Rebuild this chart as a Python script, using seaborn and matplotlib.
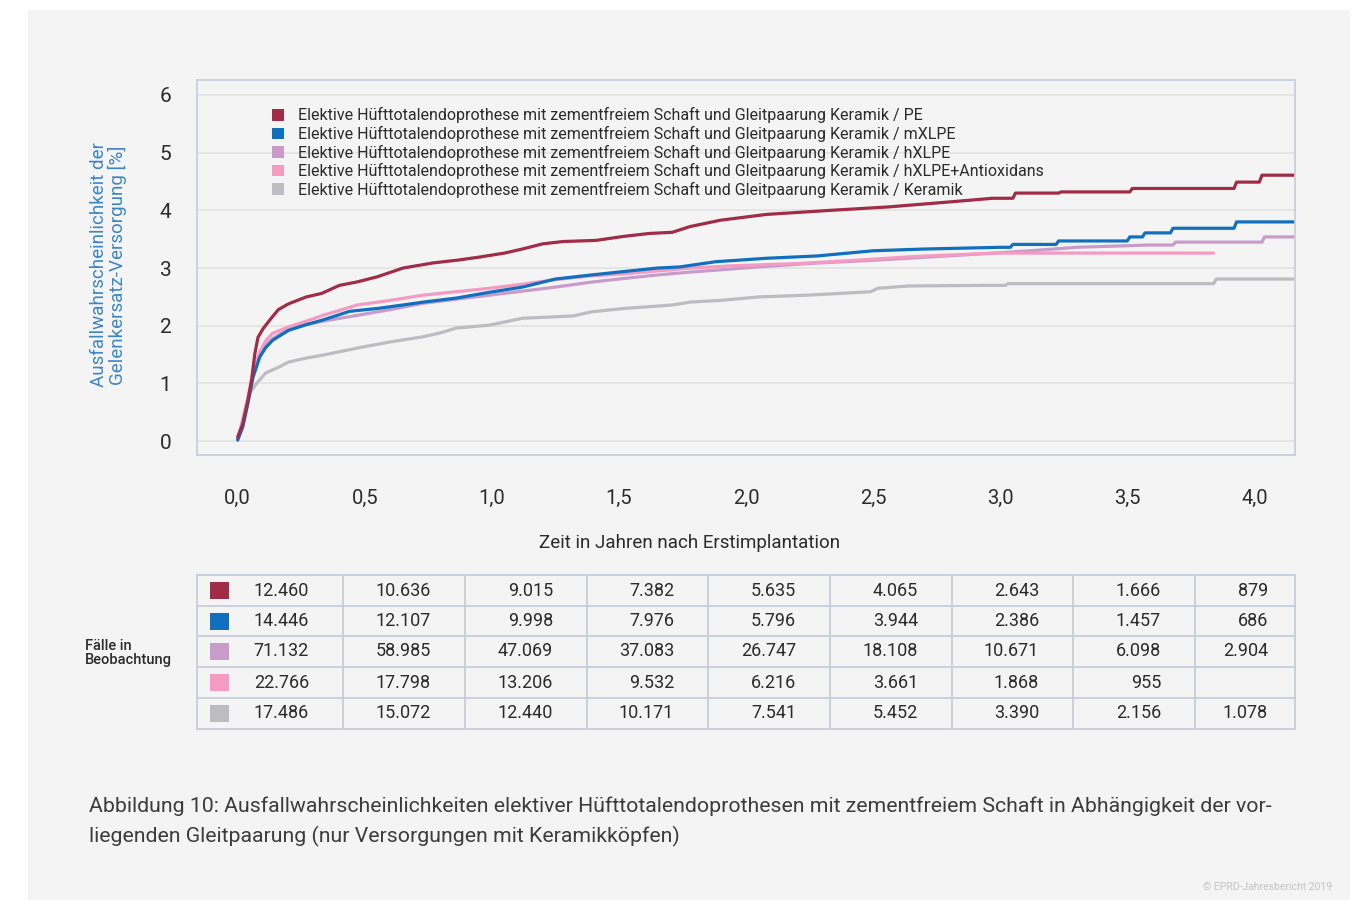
import numpy as np
import pandas as pd
import seaborn as sns
import matplotlib.pyplot as plt
from matplotlib.patches import Patch, Rectangle

# Kurven (Jahre nach Erstimplantation, Ausfallwahrscheinlichkeit in %)
pe_x = [0, 0.02, 0.04, 0.055, 0.067, 0.08, 0.1, 0.13, 0.16, 0.2, 0.27, 0.33, 0.4, 0.47, 0.55, 0.65, 0.77,
        0.87, 0.95, 1.05, 1.12, 1.2, 1.28, 1.41, 1.52, 1.62, 1.71, 1.78, 1.9, 2.08, 2.33, 2.56, 2.81,
        2.97, 3.05, 3.06, 3.23, 3.24, 3.51, 3.52, 3.92, 3.93, 4.02, 4.03, 4.16]
pe_y = [0.07, 0.3, 0.7, 1.06, 1.5, 1.8, 1.95, 2.12, 2.28, 2.38, 2.5, 2.56, 2.70, 2.76, 2.85, 3.0, 3.09,
        3.14, 3.19, 3.26, 3.33, 3.42, 3.46, 3.48, 3.55, 3.60, 3.62, 3.72, 3.83, 3.93, 4.0, 4.06, 4.15,
        4.21, 4.21, 4.30, 4.30, 4.32, 4.32, 4.38, 4.38, 4.49, 4.49, 4.61, 4.61]

mxlpe_x = [0, 0.02, 0.04, 0.06, 0.087, 0.11, 0.138, 0.2, 0.27, 0.335, 0.44, 0.55, 0.65, 0.73, 0.86, 0.99,
           1.12, 1.25, 1.39, 1.52, 1.65, 1.74, 1.88, 2.08, 2.28, 2.50, 2.70, 3.0, 3.04, 3.05, 3.22, 3.23,
           3.50, 3.51, 3.56, 3.57, 3.67, 3.68, 3.92, 3.93, 4.16]
mxlpe_y = [0.02, 0.25, 0.65, 1.1, 1.46, 1.62, 1.75, 1.92, 2.02, 2.10, 2.25, 2.30, 2.36, 2.41, 2.48, 2.58,
           2.67, 2.81, 2.88, 2.94, 3.0, 3.02, 3.11, 3.17, 3.21, 3.30, 3.33, 3.36, 3.36, 3.41, 3.41, 3.47,
           3.47, 3.54, 3.54, 3.61, 3.61, 3.69, 3.69, 3.80, 3.80]

hxlpe_x = [0, 0.02, 0.04, 0.06, 0.087, 0.11, 0.138, 0.2, 0.27, 0.335, 0.47, 0.6, 0.73, 0.86, 0.99, 1.12,
           1.25, 1.38, 1.52, 1.65, 1.78, 2.05, 2.25, 2.52, 2.75, 2.98, 3.15, 3.30, 3.59, 3.68, 3.69, 4.03,
           4.04, 4.16]
hxlpe_y = [0.02, 0.25, 0.7, 1.15, 1.5, 1.66, 1.78, 1.94, 2.02, 2.08, 2.18, 2.28, 2.39, 2.46, 2.53, 2.60,
           2.67, 2.75, 2.82, 2.88, 2.93, 3.02, 3.08, 3.14, 3.20, 3.26, 3.31, 3.36, 3.40, 3.40, 3.45, 3.45,
           3.54, 3.54]

antiox_x = [0, 0.02, 0.04, 0.06, 0.087, 0.11, 0.138, 0.2, 0.27, 0.335, 0.47, 0.6, 0.73, 0.86, 0.99, 1.12,
            1.25, 1.38, 1.52, 1.65, 1.78, 1.95, 2.21, 2.45, 2.66, 2.98, 3.84]
antiox_y = [0.03, 0.3, 0.75, 1.2, 1.55, 1.74, 1.87, 1.98, 2.08, 2.18, 2.36, 2.44, 2.53, 2.59, 2.65, 2.72,
            2.80, 2.86, 2.90, 2.95, 3.0, 3.04, 3.08, 3.14, 3.20, 3.26, 3.26]

keramik_x = [0, 0.015, 0.034, 0.05, 0.074, 0.11, 0.165, 0.2, 0.27, 0.335, 0.40, 0.49, 0.6, 0.73, 0.8, 0.86,
             0.99, 1.12, 1.32, 1.39, 1.52, 1.71, 1.78, 1.90, 2.05, 2.24, 2.49, 2.52, 2.64, 2.94, 3.02, 3.03,
             3.84, 3.85, 4.16]
keramik_y = [0.02, 0.3, 0.65, 0.85, 1.0, 1.18, 1.29, 1.37, 1.44, 1.49, 1.55, 1.63, 1.72, 1.81, 1.88, 1.96,
             2.01, 2.13, 2.17, 2.24, 2.30, 2.36, 2.41, 2.44, 2.50, 2.53, 2.59, 2.65, 2.69, 2.70, 2.70, 2.73,
             2.73, 2.81, 2.81]

prefix = "Elektive Hüfttotalendoprothese mit zementfreiem Schaft und Gleitpaarung Keramik / "
gruppen = ["PE", "mXLPE", "hXLPE", "hXLPE+Antioxidans", "Keramik"]
farben = ["#a02c48", "#1170be", "#c89bcb", "#f59bc3", "#bdbdc1"]
kurven = [(pe_x, pe_y), (mxlpe_x, mxlpe_y), (hxlpe_x, hxlpe_y), (antiox_x, antiox_y), (keramik_x, keramik_y)]

# Fälle in Beobachtung
faelle = [
    ["12.460", "10.636", "9.015", "7.382", "5.635", "4.065", "2.643", "1.666", "879"],
    ["14.446", "12.107", "9.998", "7.976", "5.796", "3.944", "2.386", "1.457", "686"],
    ["71.132", "58.985", "47.069", "37.083", "26.747", "18.108", "10.671", "6.098", "2.904"],
    ["22.766", "17.798", "13.206", "9.532", "6.216", "3.661", "1.868", "955", ""],
    ["17.486", "15.072", "12.440", "10.171", "7.541", "5.452", "3.390", "2.156", "1.078"],
]

x_ticks = [0, 0.5, 1.0, 1.5, 2.0, 2.5, 3.0, 3.5, 4.0]
y_ticks = [0, 1, 2, 3, 4, 5, 6]

rows = []
for g, (xs, ys) in zip(gruppen, kurven):
    for a, b in zip(xs, ys):
        rows.append({"Jahre": a, "Wert": b, "Gruppe": g})
df = pd.DataFrame(rows)

sns.set_style("white")
plt.rcParams['font.family'] = ['Roboto', 'DejaVu Sans']

BG = "#f4f4f4"
LINE = "#c9cfdc"
TXT = "#2b2b2b"

fig = plt.figure(figsize=(13.67, 9), dpi=100)
fig.patch.set_facecolor("white")
fig.patches.append(Rectangle((28 / 1367, 0), 1322 / 1367, 890 / 900, transform=fig.transFigure,
                             facecolor=BG, edgecolor="none", zorder=-10))

ax = fig.add_axes([197 / 1367, 1 - 455 / 900, 1098 / 1367, 375 / 900])
ax.set_facecolor(BG)

# Zeichenreihenfolge: grau unten, rot oben
order = [4, 2, 3, 1, 0]
for i in order:
    sub = df[df["Gruppe"] == gruppen[i]]
    sns.lineplot(data=sub, x="Jahre", y="Wert", ax=ax, color=farben[i], linewidth=2.3,
                 legend=False, errorbar=None, sort=False)

ax.set_xlim(-0.16, 4.16)
ax.set_ylim(-0.24, 6.26)
ax.set_xticks(x_ticks)
ax.set_xticklabels([f"{v:.1f}".replace(".", ",") for v in x_ticks])
ax.set_yticks(y_ticks)
ax.set_yticklabels([str(v) for v in y_ticks])
ax.tick_params(axis="x", length=14.5, width=1.2, color=LINE, pad=10, labelsize=14.5, labelcolor=TXT)
ax.tick_params(axis="y", length=13.5, width=1.2, color=LINE, pad=5, labelsize=15, labelcolor=TXT)
for s in ax.spines.values():
    s.set_color(LINE)
    s.set_linewidth(1.3)
ax.yaxis.grid(True, color="#e2e2e4", linewidth=1.2)
ax.set_axisbelow(True)

ax.set_xlabel("Zeit in Jahren nach Erstimplantation", fontsize=13.5, color=TXT)
ax.xaxis.set_label_coords(0.449, -0.235)
ax.xaxis.label.set_va("center")
ax.set_ylabel("Ausfallwahrscheinlichkeit der\nGelenkersatz-Versorgung [%]", fontsize=13.5, color="#3a86c8",
              linespacing=1.0)
ax.yaxis.set_label_coords(-0.064, 0.507)

handles = [Patch(facecolor=c, edgecolor="none") for c in farben]
ax.legend(handles, [prefix + g for g in gruppen], loc="upper left", bbox_to_anchor=(0.068, 0.927),
          frameon=False, fontsize=11.5, handlelength=0.75, handleheight=0.75, handletextpad=0.9,
          labelspacing=0.16, borderaxespad=0, borderpad=0, labelcolor=TXT)

# Tabelle
tab = fig.add_axes([197 / 1367, 1 - 729 / 900, 1098 / 1367, 154 / 900])
tab.set_xlim(197, 1295)
tab.set_ylim(729, 575)
tab.axis("off")
col_edges = [197, 343, 465, 587, 708, 830, 952, 1073, 1195, 1295]
row_edges = [575, 606, 636, 667, 698, 729]
for yy in row_edges:
    tab.plot([197, 1295], [yy, yy], color=LINE, linewidth=1.4, clip_on=False)
for xx in col_edges:
    tab.plot([xx, xx], [575, 729], color=LINE, linewidth=1.4, clip_on=False)
for r, (werte, c) in enumerate(zip(faelle, farben)):
    yc = (row_edges[r] + row_edges[r + 1]) / 2
    tab.add_patch(Rectangle((210, yc - 8.5), 19, 17, facecolor=c, edgecolor="none"))
    for k, w in enumerate(werte):
        off = 27 if k == len(werte) - 1 else 34
        tab.text(col_edges[k + 1] - off, yc, w, ha="right", va="center", fontsize=13, color=TXT)

fig.text(85 / 1367, 1 - 653 / 900, "Fälle in\nBeobachtung", ha="left", va="center", fontsize=10.5,
         color=TXT, fontweight="medium", linespacing=1.0)

fig.text(89 / 1367, 1 - 806 / 900,
         "Abbildung 10: Ausfallwahrscheinlichkeiten elektiver Hüfttotalendoprothesen mit zementfreiem Schaft "
         "in Abhängigkeit der vor-", ha="left", va="center", fontsize=15.3, color="#3c3c3c")
fig.text(89 / 1367, 1 - 836 / 900, "liegenden Gleitpaarung (nur Versorgungen mit Keramikköpfen)",
         ha="left", va="center", fontsize=15.3, color="#3c3c3c")
fig.text(1332 / 1367, 1 - 887 / 900, "© EPRD-Jahresbericht 2019", ha="right", va="center", fontsize=7.5,
         color="#c4c4c4")

fig.savefig("out.png", dpi=100, facecolor=fig.get_facecolor())
